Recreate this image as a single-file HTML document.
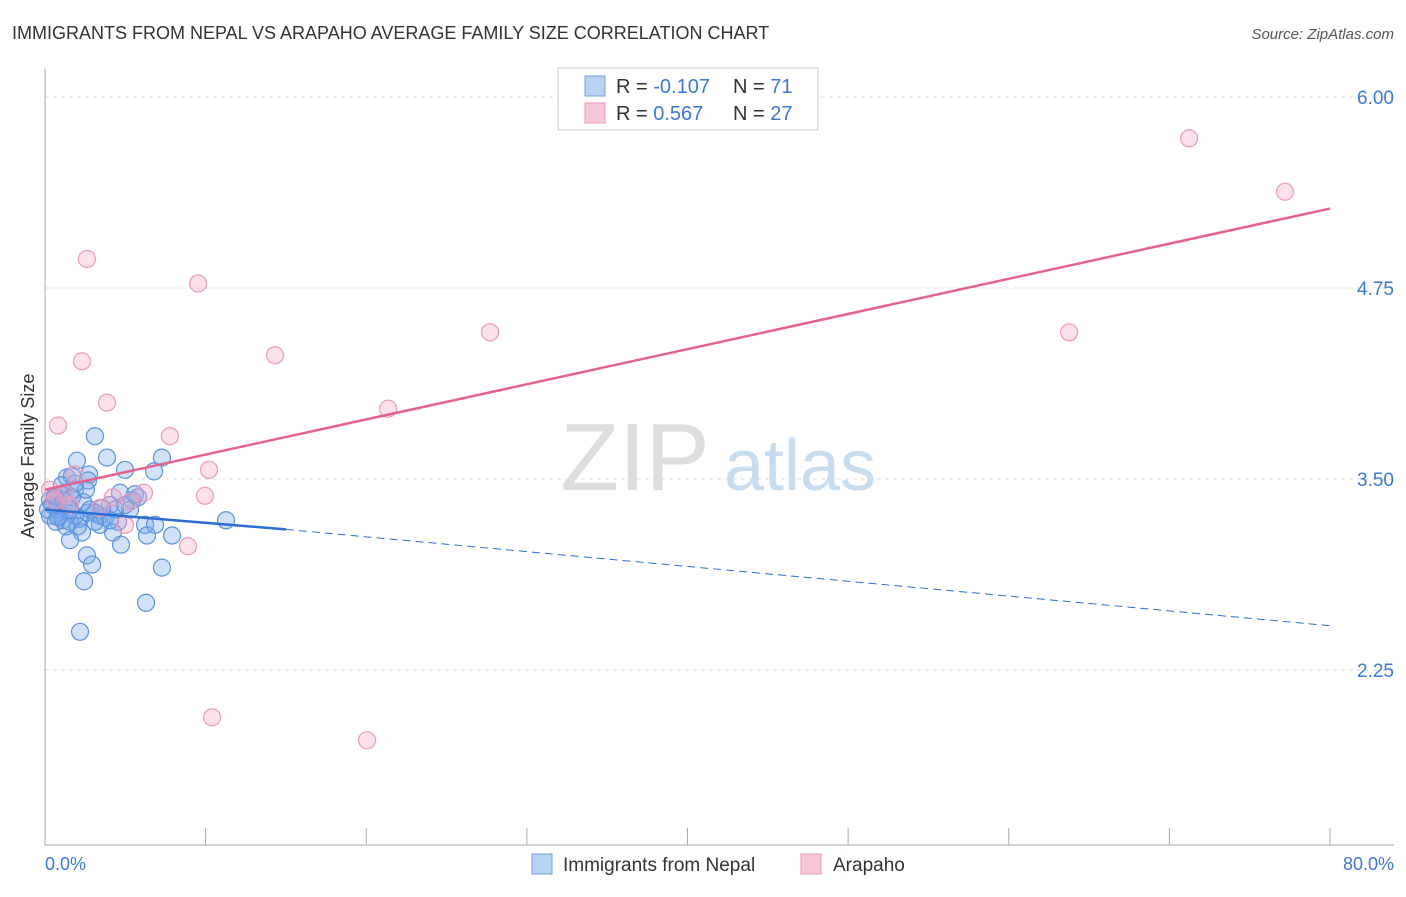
<!DOCTYPE html>
<html><head><meta charset="utf-8"><style>
body{margin:0;background:#fff;font-family:"Liberation Sans",sans-serif}
svg text{font-family:"Liberation Sans",sans-serif}
</style></head><body>
<svg id="chart" width="1406" height="892">
<text x="12" y="39" font-size="18" fill="#333">IMMIGRANTS FROM NEPAL VS ARAPAHO AVERAGE FAMILY SIZE CORRELATION CHART</text>
<text x="1394" y="39" font-size="15" fill="#555" font-style="italic" text-anchor="end">Source: ZipAtlas.com</text>
<g><text x="635" y="490" font-size="96" fill="#ddd" font-family="Liberation Serif" text-anchor="middle">ZIP</text><text x="800" y="490" font-size="72" fill="#c8dcf0" text-anchor="middle">atlas</text></g>
<g id="grid"></g><g id="axes"></g><g id="marks"></g>
<text transform="translate(34,456) rotate(-90)" font-size="18" fill="#333" text-anchor="middle">Average Family Size</text>
<text x="45" y="870" font-size="18" fill="#3b78d8">0.0%</text>
<text x="1394" y="870" font-size="18" fill="#3b78d8" text-anchor="end">80.0%</text>
<g>
<rect x="558" y="68" width="260" height="62" fill="#fff" stroke="#ccc"/>
<rect x="585" y="76" width="20" height="20" fill="#b8d2f4" stroke="#6fa0e0"/>
<rect x="585" y="103" width="20" height="20" fill="#f9c8d8" stroke="#eb9ab5"/>
<text x="616" y="93" font-size="20" fill="#333">R = <tspan fill="#3b78d8">-0.107</tspan><tspan x="733">N = </tspan><tspan fill="#3b78d8">71</tspan></text>
<text x="616" y="120" font-size="20" fill="#333">R = <tspan fill="#3b78d8"> 0.567</tspan><tspan x="733">N = </tspan><tspan fill="#3b78d8">27</tspan></text>
</g>
<g>
<rect x="532" y="854" width="20" height="20" fill="#b8d2f4" stroke="#6fa0e0"/>
<text x="563" y="871" font-size="19" fill="#333">Immigrants from Nepal</text>
<rect x="801" y="854" width="20" height="20" fill="#f9c8d8" stroke="#eb9ab5"/>
<text x="833" y="871" font-size="19" fill="#333">Arapaho</text>
</g>
</svg>
<script>
const yTicks=[6.00,4.75,3.50,2.25];
const xTicks=[0,10,20,30,40,50,60,70,80];
const nepalX=[3.11,3.86,1.99,4.98,6.79,7.28,1.37,1.68,2.74,2.68,0.93,1.25,1.87,0.62,0.31,0.44,0.75,0.93,0.31,1.12,1.56,2.18,2.68,3.11,3.42,4.05,4.67,5.42,5.79,6.23,6.85,5.29,4.55,4.23,2.30,1.56,3.42,2.61,2.93,2.43,4.73,6.35,7.91,7.28,6.29,2.18,11.27,0.81,0.19,0.62,1.06,1.87,1.43,2.37,2.80,3.74,4.36,4.98,5.60,2.05,1.31,0.68,4.05,3.11,1.68,1.18,3.55,2.55,1.87,0.81,1.56];
const nepalY=[3.78,3.64,3.62,3.56,3.55,3.64,3.51,3.52,3.53,3.49,3.40,3.41,3.43,3.38,3.36,3.33,3.30,3.26,3.26,3.23,3.22,3.24,3.28,3.28,3.26,3.33,3.41,3.36,3.38,3.20,3.20,3.30,3.22,3.15,3.15,3.10,3.20,3.00,2.94,2.83,3.07,3.13,3.13,2.92,2.69,2.50,3.23,3.33,3.30,3.39,3.46,3.26,3.33,3.35,3.30,3.25,3.30,3.33,3.40,3.19,3.19,3.22,3.23,3.22,3.38,3.36,3.31,3.43,3.47,3.25,3.30];
const arapahoX=[2.61,9.53,2.30,3.86,0.81,7.78,10.21,9.96,6.16,4.98,8.90,10.40,20.05,14.32,27.71,21.36,71.23,77.20,63.76,1.87,0.31,0.62,1.25,4.23,3.42,5.29,1.56];
const arapahoY=[4.94,4.78,4.27,4.00,3.85,3.78,3.56,3.39,3.41,3.20,3.06,1.94,1.79,4.31,4.46,3.96,5.73,5.38,4.46,3.53,3.43,3.36,3.40,3.38,3.31,3.35,3.33];
const arapahoTrend=[3.43,5.27];
const nepalTrend=[3.30,3.17,2.54];
const NS="http://www.w3.org/2000/svg";
const sx=v=>45+v/80*1285;
const sy=v=>97+(6-v)/1.25*191;
function mk(t,a,p){const e=document.createElementNS(NS,t);for(const k in a)e.setAttribute(k,a[k]);p.appendChild(e);return e;}
const grid=document.getElementById('grid'),axes=document.getElementById('axes'),marks=document.getElementById('marks');
yTicks.forEach(v=>{
 const l=mk('line',{x1:45,x2:1394,y1:sy(v),y2:sy(v),stroke:'#ddd','stroke-dasharray':'4,4'},grid);
 
 
 const t=mk('text',{x:1394,y:sy(v)+7,'font-size':19,fill:'#3b78d8','text-anchor':'end'},grid);
 t.textContent=v.toFixed(2);
 
 
});
let a=mk('line',{x1:45,x2:45,y1:68,y2:845,stroke:'#aaa'},axes);


a=mk('line',{x1:45,x2:1394,y1:845,y2:845,stroke:'#aaa'},axes);


xTicks.forEach(v=>{
 const t=mk('line',{x1:sx(v),x2:sx(v),y1:828,y2:845,stroke:'#aaa'},axes);
 
 
});
nepalX.forEach((x,i)=>{
 const c=mk('circle',{cx:sx(x),cy:sy(nepalY[i]),r:8.5,fill:'rgba(120,170,235,0.35)',stroke:'#5b93e0','stroke-width':1.2},marks);
 
 
});
arapahoX.forEach((x,i)=>{
 const c=mk('circle',{cx:sx(x),cy:sy(arapahoY[i]),r:8.5,fill:'rgba(245,170,195,0.35)',stroke:'#eb9ab5','stroke-width':1.2},marks);
 
 
});
let l=mk('line',{x1:sx(0),y1:sy(arapahoTrend[0]),x2:sx(80),y2:sy(arapahoTrend[1]),stroke:'#e5628f','stroke-width':2.5},marks);


l=mk('line',{x1:sx(0),y1:sy(nepalTrend[0]),x2:sx(15),y2:sy(nepalTrend[1]),stroke:'#2a6fd6','stroke-width':2.5},marks);


l=mk('line',{x1:sx(15),y1:sy(nepalTrend[1]),x2:sx(80),y2:sy(nepalTrend[2]),stroke:'#2a6fd6','stroke-width':1,'stroke-dasharray':'8,5'},marks);


</script>
</body></html>
